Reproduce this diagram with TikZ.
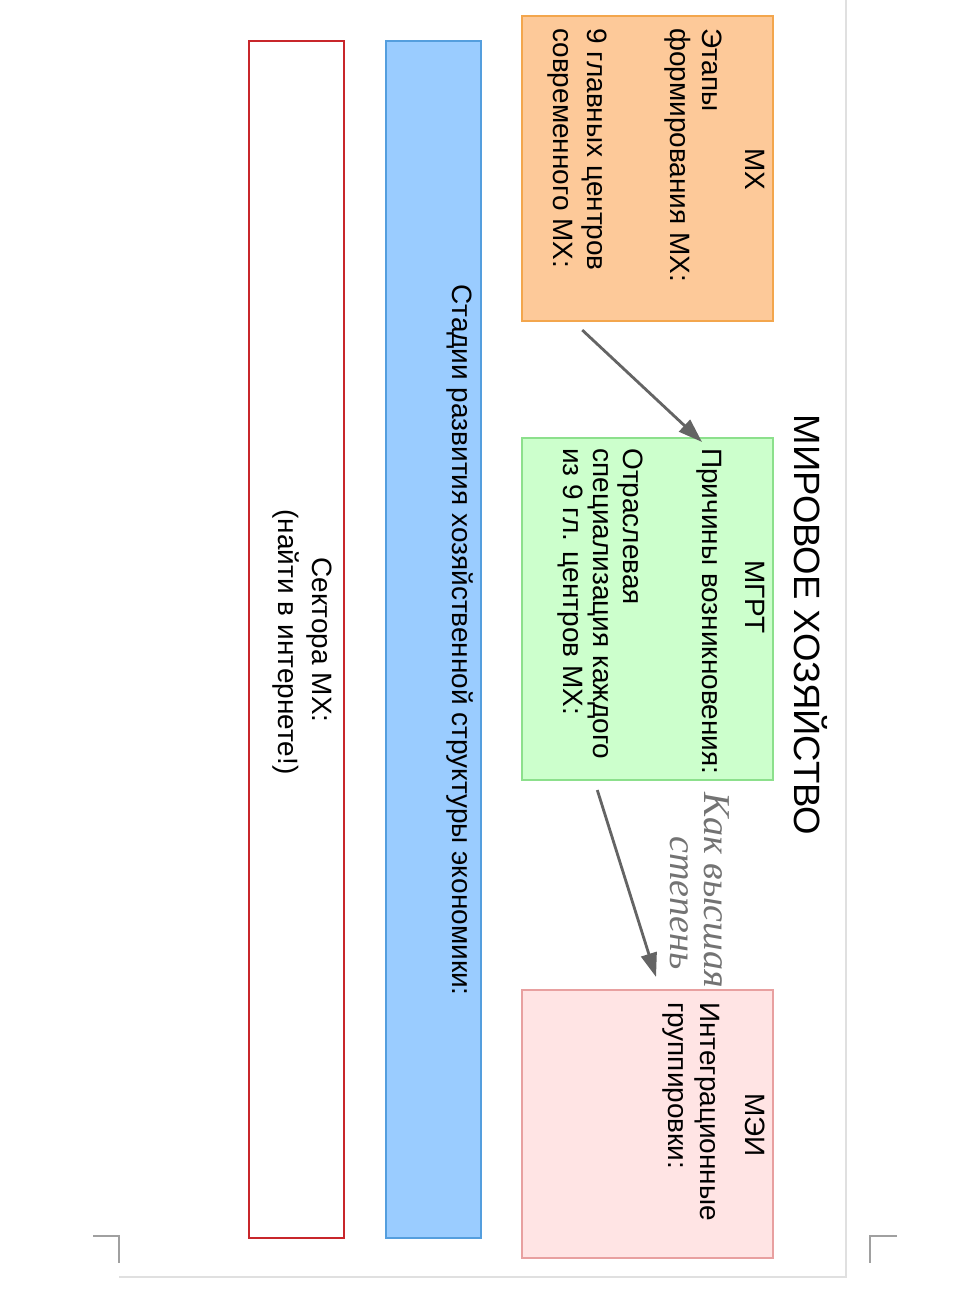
\documentclass[tikz,border=0pt]{standalone}
\usepackage{fontspec}
\setmainfont{Liberation Sans}
\newfontfamily\handfont{Liberation Serif}
\usetikzlibrary{positioning, arrows.meta, calc}
\definecolor{mxFill}{RGB}{253,201,153}
\definecolor{mxLine}{RGB}{243,166,77}
\definecolor{mgrtFill}{RGB}{204,255,204}
\definecolor{mgrtLine}{RGB}{140,224,140}
\definecolor{meiFill}{RGB}{255,228,228}
\definecolor{meiLine}{RGB}{232,160,160}
\definecolor{stageFill}{RGB}{154,204,255}
\definecolor{stageLine}{RGB}{84,158,222}
\definecolor{sectorLine}{RGB}{200,38,43}
\definecolor{arrowGray}{RGB}{100,100,100}
\definecolor{pageLine}{RGB}{224,224,224}
\definecolor{cropGray}{RGB}{160,160,160}
\definecolor{penGray}{RGB}{115,115,115}

\tikzset{
    box/.style={rectangle, inner sep=0, outer sep=0, line width=1.4pt},
    txt/.style={rotate=-90, inner sep=0, font=\fontsize{19.9}{24}\selectfont},
    hand/.style={rotate=-90, inner sep=0, penGray, font=\handfont\itshape\fontsize{27}{32}\selectfont},
    arr/.style={->, line width=2pt, arrowGray}
}

\begin{document}
\begin{tikzpicture}[x=0.025cm, y=-0.025cm, >={Triangle[length=6mm, width=4mm]}]
        \useasboundingbox (0,0) rectangle (978,1313);
        
        % page edge and crop marks
        \draw[pageLine, line width=1.4pt] (846,0) -- (846,1277) -- (119,1277);
        \draw[cropGray, line width=1pt] (93,1236) -- (119,1236) -- (119,1263);
        \draw[cropGray, line width=1pt] (897,1236) -- (870,1236) -- (870,1263);
        
        % boxes
        \node[box, draw=mxLine, fill=mxFill, minimum width=6.275cm, minimum height=7.625cm] (mx) at (647.5,168.5) {};
        \node[box, draw=mgrtLine, fill=mgrtFill, minimum width=6.275cm, minimum height=8.55cm] (mgrt) at (647.5,609) {};
        \node[box, draw=meiLine, fill=meiFill, minimum width=6.275cm, minimum height=6.7cm] (mei) at (647.5,1124) {};
        \node[box, draw=stageLine, fill=stageFill, minimum width=2.375cm, minimum height=29.925cm] (stages) at (433.5,639.5) {};
        \node[box, draw=sectorLine, fill=white, minimum width=2.375cm, minimum height=29.925cm] (sectors) at (296.5,639.5) {};
        
        % title
        \node[txt, anchor=base, font=\fontsize{26}{30}\selectfont] (title) at (794,625) {МИРОВОЕ ХОЗЯЙСТВО};
        
        % MX
        \node[txt, anchor=base] (mxT) at (745,169) {МХ};
        \foreach \bx/\t [count=\i] in {702/Этапы, 670/формирования МХ:, 587/9 главных центров, 553/современного МХ:}
            \node[txt, anchor=base west] (mxL\i) at (\bx,28) {\t};
        
        % MGRT
        \node[txt, anchor=base] (mgrtT) at (745,597) {МГРТ};
        \foreach \bx/\t [count=\i] in {702/Причины возникновения:, 623/Отраслевая, 593/специализация каждого, 563/из 9 гл. центров МХ:}
            \node[txt, anchor=base west] (mgrtL\i) at (\bx,448) {\t};
        
        % MEI
        \node[txt, anchor=base] (meiT) at (745,1125) {МЭИ};
        \foreach \bx/\t [count=\i] in {700/Интеграционные, 668/группировки:}
            \node[txt, anchor=base west] (meiL\i) at (\bx,1002) {\t};
        
        % long boxes
        \node[txt, anchor=base] (stagesT) at (452,640) {Стадии развития хозяйственной структуры экономики:};
        \node[txt, anchor=base] (sectorsT) at (312,640) {Сектора МХ:};
        \node[txt, anchor=base] (sectorsN) at (278,642) {(найти в интернете!)};
        
        % handwritten note
        \node[hand, anchor=base] (note1) at (704,890) {Как высшая};
        \node[hand, anchor=base] (note2) at (670,903) {степень};
        
        % arrows
        \draw[arr] ($(mx.south west)!0.24!(mx.south east)+(0,9)$) -- ($(mgrt.north west)!0.717!(mgrt.north east)+(0,4)$);
        \draw[arr] ($(mgrt.south west)!0.30!(mgrt.south east)+(0,10)$) -- ($(mei.north west)!0.534!(mei.north east)+(0,-13)$);
    \end{tikzpicture}
\end{document}
